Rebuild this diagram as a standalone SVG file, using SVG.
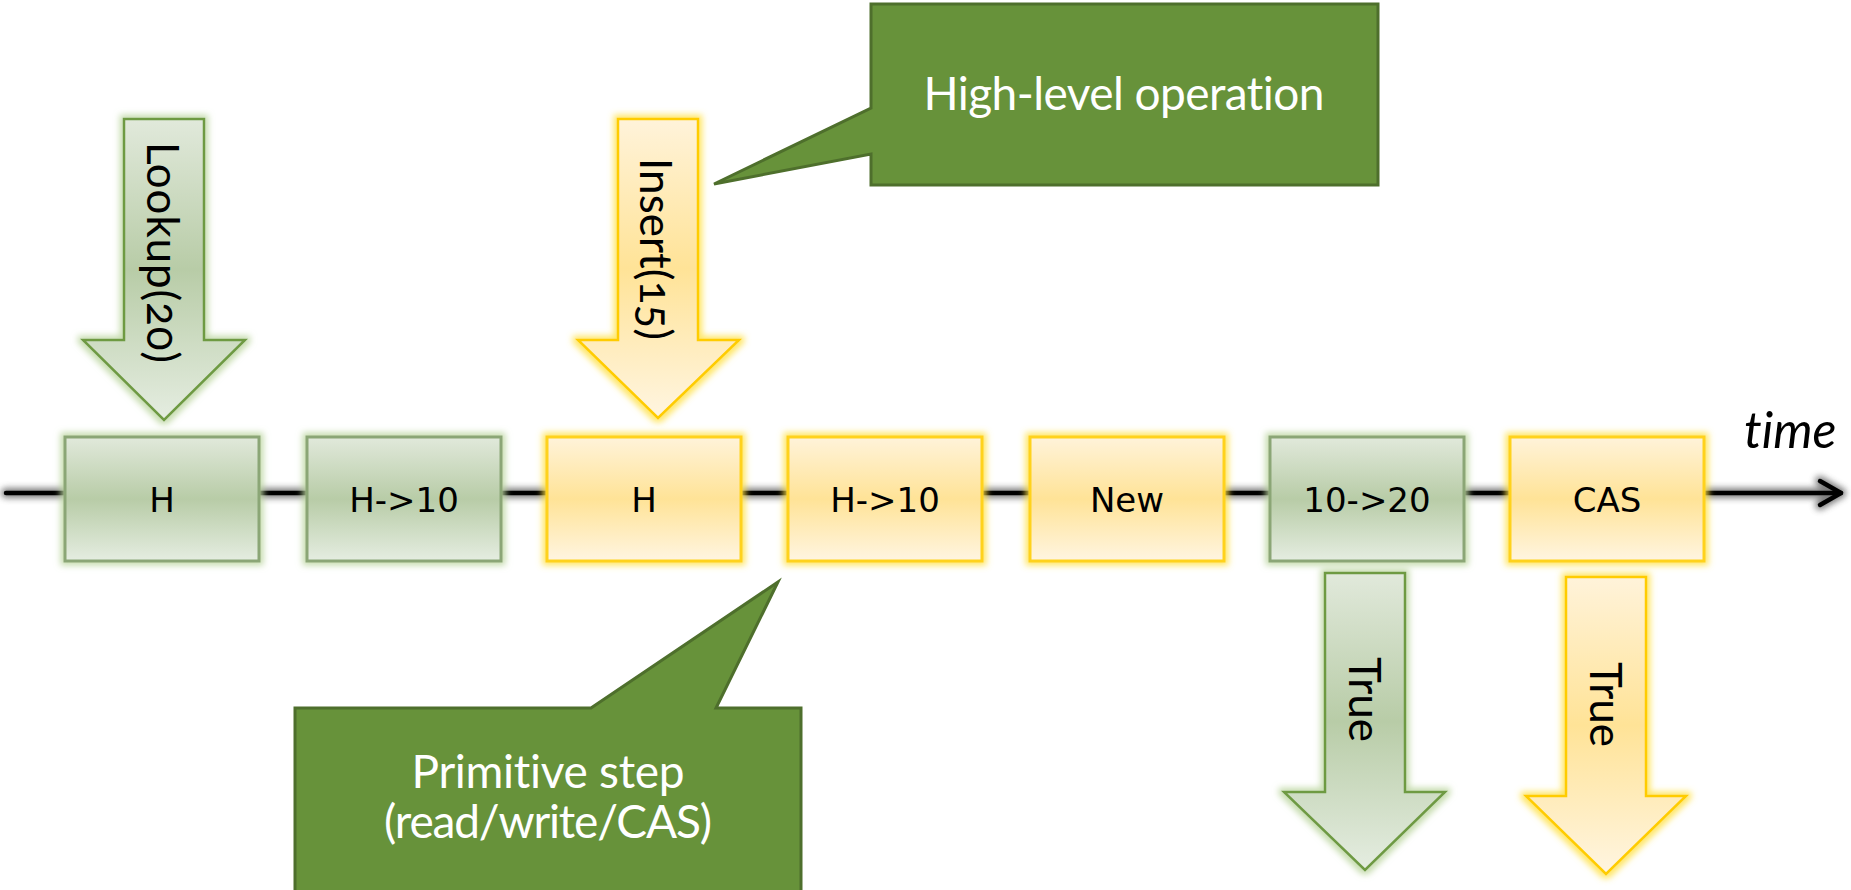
<svg xmlns="http://www.w3.org/2000/svg" width="1851" height="890" viewBox="0 0 1851 890">
<style>
  text { font-variant-ligatures: none; font-feature-settings: "liga" 0; }
  .lbl { font-family: "DejaVu Sans", sans-serif; font-size: 34px; fill: #000; text-anchor: middle; }
  .rot { font-family: Lato, "Open Sans", sans-serif; font-size: 44px; fill: #000; font-feature-settings: "onum", "liga" 0; }
  .call { font-family: Lato, "Open Sans", sans-serif; font-size: 46px; fill: #fff; text-anchor: middle; }
  .gbox { fill: url(#gBox); stroke: #8ba676; stroke-width: 3; filter: url(#glowG); }
  .ybox { fill: url(#yBox); stroke: #ffd21a; stroke-width: 3; filter: url(#glowY); }
  .garr { fill: url(#gBox); stroke: #6e9a43; stroke-width: 2.5; filter: url(#glowG); }
  .yarr { fill: url(#yBox); stroke: #ffcc00; stroke-width: 2.5; filter: url(#glowY); }
  .callout { fill: #67923a; stroke: #4e6f2c; stroke-width: 3; stroke-linejoin: miter; }
</style>
<defs>
  <linearGradient id="gBox" x1="0" y1="0" x2="0" y2="1">
    <stop offset="0" stop-color="#e1e9db"/>
    <stop offset="0.5" stop-color="#b8cca7"/>
    <stop offset="1" stop-color="#e5ede1"/>
  </linearGradient>
  <linearGradient id="yBox" x1="0" y1="0" x2="0" y2="1">
    <stop offset="0" stop-color="#fff3da"/>
    <stop offset="0.5" stop-color="#ffe397"/>
    <stop offset="1" stop-color="#fff5e1"/>
  </linearGradient>
  <filter id="glowG" x="-20%" y="-20%" width="140%" height="140%">
    <feMorphology in="SourceAlpha" operator="dilate" radius="3" result="d"/>
    <feGaussianBlur in="d" stdDeviation="3" result="b"/>
    <feFlood flood-color="#bcd6a0" flood-opacity="0.85"/>
    <feComposite in2="b" operator="in" result="g"/>
    <feMerge><feMergeNode in="g"/><feMergeNode in="SourceGraphic"/></feMerge>
  </filter>
  <filter id="glowY" x="-20%" y="-20%" width="140%" height="140%">
    <feMorphology in="SourceAlpha" operator="dilate" radius="3" result="d"/>
    <feGaussianBlur in="d" stdDeviation="3" result="b"/>
    <feFlood flood-color="#ffe24a" flood-opacity="0.85"/>
    <feComposite in2="b" operator="in" result="g"/>
    <feMerge><feMergeNode in="g"/><feMergeNode in="SourceGraphic"/></feMerge>
  </filter>
  <filter id="shadow" x="-5%" y="-200%" width="110%" height="500%">
    <feGaussianBlur stdDeviation="3"/>
  </filter>
</defs>

<g id="connectors">
  <g id="timeline" fill="none" stroke-linecap="round" stroke-linejoin="round">
    <g filter="url(#shadow)" stroke="#666" stroke-width="10" opacity="0.85">
      <line x1="6" y1="493" x2="1841" y2="493"/>
      <polyline points="1820,481 1841,493 1820,505"/>
    </g>
    <line x1="6" y1="493" x2="1841" y2="493" stroke="#000" stroke-width="4.5"/>
    <polyline points="1820,481 1841,493 1820,505" stroke="#000" stroke-width="4.5"/>
  </g>
</g>

<text x="1744" y="448" font-family="Lato, 'Open Sans', sans-serif" font-style="italic" font-size="50" fill="#000">time</text>

<g id="box1"><rect class="gbox" x="65" y="437" width="194" height="124"/><text class="lbl" x="162" y="512">H</text></g>
<g id="box2"><rect class="gbox" x="307" y="437" width="194" height="124"/><text class="lbl" x="404" y="512">H-&gt;10</text></g>
<g id="box3"><rect class="ybox" x="547" y="437" width="194" height="124"/><text class="lbl" x="644" y="512">H</text></g>
<g id="box4"><rect class="ybox" x="788" y="437" width="194" height="124"/><text class="lbl" x="885" y="512">H-&gt;10</text></g>
<g id="box5"><rect class="ybox" x="1030" y="437" width="194" height="124"/><text class="lbl" x="1127" y="512">New</text></g>
<g id="box6"><rect class="gbox" x="1270" y="437" width="194" height="124"/><text class="lbl" x="1367" y="512">10-&gt;20</text></g>
<g id="box7"><rect class="ybox" x="1510" y="437" width="194" height="124"/><text class="lbl" x="1607" y="512">CAS</text></g>

<g id="lookup">
  <path class="garr" d="M124,119 H204 V340 H245 L164,420 L83,340 H124 Z"/>
  <text class="rot" transform="translate(147,142) rotate(90)" textLength="221">Lookup(20)</text>
</g>
<g id="insert">
  <path class="yarr" d="M618,119 H698 V340 H739 L658,418 L578,340 H618 Z"/>
  <text class="rot" transform="translate(640,158) rotate(90)" textLength="182">Insert(15)</text>
</g>
<g id="true1">
  <path class="garr" d="M1325,573 H1405 V792 H1445 L1365,870 L1284,792 H1325 Z"/>
  <text class="rot" transform="translate(1349,657) rotate(90)" textLength="85">True</text>
</g>
<g id="true2">
  <path class="yarr" d="M1566,577 H1646 V796 H1686 L1606,874 L1526,796 H1566 Z"/>
  <text class="rot" transform="translate(1590,662) rotate(90)" textLength="85">True</text>
</g>

<g id="callout-high">
  <path class="callout" d="M871,4 H1378 V185 H871 V154 L714,184 L871,108 Z"/>
  <text class="call" x="1124" y="110" textLength="401">High-level operation</text>
</g>
<g id="callout-primitive">
  <path class="callout" d="M295,708 H591 L778,582 L716,708 H801 V900 H295 Z"/>
  <text class="call" x="548" y="788" textLength="273">Primitive step</text>
  <text class="call" x="548" y="838" textLength="328">(read/write/CAS)</text>
</g>
</svg>
